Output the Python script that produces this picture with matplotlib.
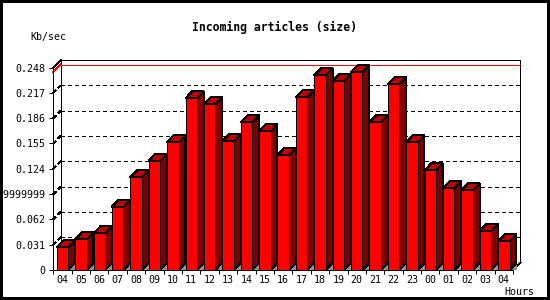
#!/usr/bin/env python3

import matplotlib
matplotlib.use('Agg')
import matplotlib.pyplot as plt
from matplotlib.patches import Polygon, Rectangle

# Data
hours = ['04', '05', '06', '07', '08', '09', '10', '11', '12', '13', '14', '15',
         '16', '17', '18', '19', '20', '21', '22', '23', '00', '01', '02', '03', '04']
kb_sec = [0.0278, 0.0376, 0.0449, 0.0775, 0.1135, 0.1339, 0.1564, 0.2103,
          0.2029, 0.1576, 0.1809, 0.1699, 0.1408, 0.2115, 0.2385, 0.2315,
          0.2425, 0.1809, 0.2274, 0.1564, 0.1221, 0.1001, 0.0976, 0.0478,
          0.0351]
y_ticks = [0, 0.031, 0.062, 0.093, 0.124, 0.155, 0.186, 0.217, 0.248]
y_tick_labels = ['0', '0.031', '0.062', '0.0929999999', '0.124', '0.155',
                 '0.186', '0.217', '0.248']

# 3D look: depth of bars and back wall in data units
BAR_DX, BAR_DY = 0.37, 0.0086
WALL_DX, WALL_DY = 0.40, 0.0091
BAR_OFF, BAR_W = 0.19, 0.625

FRONT = '#ff0000'
TOP = '#c00000'
SIDE = '#800000'
SHADOW = '#909090'
LW = 0.72  # one pixel

plt.rcParams['lines.antialiased'] = False
plt.rcParams['patch.antialiased'] = False
mono = 'DejaVu Sans Mono'


def main():
    fig = plt.figure(figsize=(5.5, 3.0), dpi=100)
    ax = fig.add_axes([53.3 / 550, 30 / 300, 459.7 / 550, 202.5 / 300])
    n = len(hours)
    ymax = y_ticks[-1]
    ax.set_xlim(0, n)
    ax.set_ylim(0, ymax)
    ax.patch.set_visible(False)

    for side in ('top', 'right'):
        ax.spines[side].set_visible(False)
    for side in ('left', 'bottom'):
        ax.spines[side].set_linewidth(LW)

    # back wall frame
    wall = dict(color='black', lw=LW, clip_on=False, zorder=1)
    ax.plot([WALL_DX, WALL_DX, n + WALL_DX, n + WALL_DX],
            [WALL_DY, ymax + WALL_DY, ymax + WALL_DY, WALL_DY], **wall)
    ax.plot([0, WALL_DX], [ymax, ymax + WALL_DY], **wall)
    ax.plot([n, n + WALL_DX], [0, WALL_DY], **wall)

    # dotted grid on the back wall
    grid = dict(color='black', lw=LW, ls=(0, (3.5, 3.5)), clip_on=False, zorder=1)
    for t in y_ticks[1:-1]:
        ax.plot([WALL_DX, n + WALL_DX], [t + WALL_DY, t + WALL_DY], **grid)
        ax.plot([0, WALL_DX], [t, t + WALL_DY], **grid)

    # red line at the maximum value
    peak = max(kb_sec)
    red = dict(color='#ff0000', lw=LW, clip_on=False, zorder=1.5)
    ax.plot([WALL_DX, n + WALL_DX], [peak + WALL_DY, peak + WALL_DY], **red)
    ax.plot([0, WALL_DX], [peak, peak + WALL_DY], **red)

    # 3D bars, drawn left to right
    for i, v in enumerate(kb_sec):
        left = i + BAR_OFF
        right = left + BAR_W
        z = 2 + i * 0.01
        ax.add_patch(Polygon([(right, 0), (right + BAR_DX, BAR_DY),
                              (right + BAR_DX, 0)], closed=True,
                             facecolor=SHADOW, edgecolor='none',
                             clip_on=False, zorder=z))
        ax.add_patch(Polygon([(right, 0), (right, v), (right + BAR_DX, v + BAR_DY),
                              (right + BAR_DX, BAR_DY)], closed=True,
                             facecolor=SIDE, edgecolor='black', lw=LW,
                             clip_on=False, zorder=z))
        ax.add_patch(Polygon([(left, v), (left + BAR_DX, v + BAR_DY),
                              (right + BAR_DX, v + BAR_DY), (right, v)],
                             closed=True, facecolor=TOP, edgecolor='black',
                             lw=LW, clip_on=False, zorder=z))
        ax.add_patch(Rectangle((left, 0), BAR_W, v, facecolor=FRONT,
                               edgecolor='black', lw=LW, clip_on=False,
                               zorder=z))

    # axes ticks
    ax.set_yticks(y_ticks)
    ax.set_yticklabels(y_tick_labels, fontsize=7.2, family=mono)
    ax.tick_params(axis='y', length=2.9, width=LW, pad=3.0)
    ax.set_xticks(range(n + 1))
    ax.set_xticklabels([])
    ax.set_xticks([i + 0.5 for i in range(n)], minor=True)
    ax.set_xticklabels(hours, minor=True, fontsize=7.2, family=mono)
    ax.tick_params(axis='x', which='major', length=2.9, width=LW)
    ax.tick_params(axis='x', which='minor', length=0, pad=3.5)

    fig.text(274.5 / 550, 1 - 27 / 300, 'Incoming articles (size)',
             ha='center', va='center', fontsize=8.3, family=mono,
             fontweight='bold')
    fig.text(30 / 550, 1 - 37 / 300, 'Kb/sec', ha='left', va='center',
             fontsize=7.2, family=mono)
    fig.text(534 / 550, 1 - 292 / 300, 'Hours', ha='right', va='center',
             fontsize=7.2, family=mono)

    fig.patches.append(Rectangle((0, 0), 1, 1, transform=fig.transFigure,
                                 fill=False, edgecolor='black', lw=2.9))

    fig.savefig('out.png', dpi=100)


if __name__ == '__main__':
    main()
